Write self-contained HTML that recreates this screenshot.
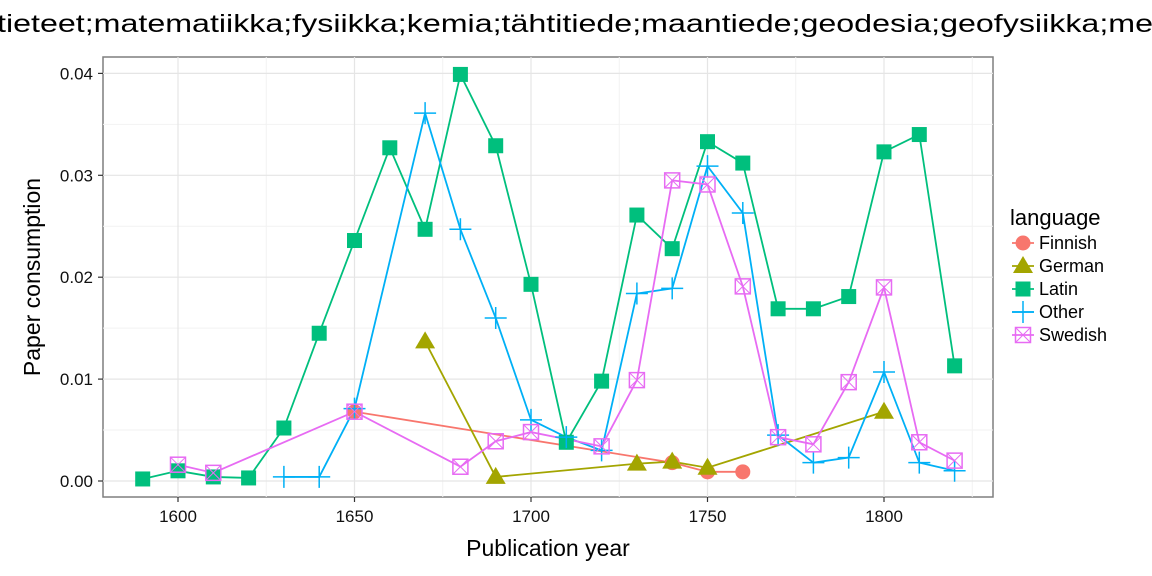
<!DOCTYPE html>
<html><head><meta charset="utf-8"><style>
body{margin:0;background:#fff;}
svg{display:block;font-family:"Liberation Sans",sans-serif;}
</style></head><body>
<svg id="chart" width="1152" height="576" viewBox="0 0 1152 576">
<text x="-3" y="32" font-size="25" textLength="1156" lengthAdjust="spacingAndGlyphs">tieteet;matematiikka;fysiikka;kemia;tähtitiede;maantiede;geodesia;geofysiikka;me</text>
<rect x="103" y="57" width="890" height="440" fill="#fff" stroke="#7f7f7f" stroke-width="1.5"/>
<g id="grid"></g>
<g id="series"></g>
<g id="axes"></g>
<text x="548" y="556" font-size="23" text-anchor="middle">Publication year</text>
<text transform="translate(40,277) rotate(-90)" font-size="23" text-anchor="middle">Paper consumption</text>
<g id="legend">
<text x="1010" y="225" font-size="22">language</text>
</g>
</svg>
<script>
const years = [1590,1600,1610,1620,1630,1640,1650,1660,1670,1680,1690,1700,1710,1720,1730,1740,1750,1760,1770,1780,1790,1800,1810,1820];
const finnishX = [1650,1740,1750,1760];
const finnishY = [0.0068,0.0018,0.0009,0.0009];
const germanX = [1670,1690,1730,1740,1750,1800];
const germanY = [0.0137,0.0004,0.0017,0.0019,0.0013,0.0068];
const latinX = years;
const latinY = [0.0002,0.0010,0.0004,0.0003,0.0052,0.0145,0.0236,0.0327,0.0247,0.0399,0.0329,0.0193,0.0038,0.0098,0.0261,0.0228,0.0333,0.0312,0.0169,0.0169,0.0181,0.0323,0.0340,0.0113];
const otherX = [1630,1640,1650,1670,1680,1690,1700,1710,1720,1730,1740,1750,1760,1770,1780,1790,1800,1810,1820];
const otherY = [0.0004,0.0004,0.0071,0.0361,0.0247,0.0160,0.0060,0.0043,0.0030,0.0184,0.0189,0.0309,0.0263,0.0045,0.0018,0.0023,0.0107,0.0018,0.0010];
const swedishX = [1600,1610,1650,1680,1690,1700,1720,1730,1740,1750,1760,1770,1780,1790,1800,1810,1820];
const swedishY = [0.0016,0.0008,0.0068,0.0014,0.0039,0.0048,0.0034,0.0099,0.0295,0.0291,0.0191,0.0043,0.0036,0.0097,0.0190,0.0038,0.0020];
const xTicks = [1600,1650,1700,1750,1800];
const yTicks = [0,0.01,0.02,0.03,0.04];
const yTickLabels = ["0.00","0.01","0.02","0.03","0.04"];
const languages = ["Finnish","German","Latin","Other","Swedish"];

const NS="http://www.w3.org/2000/svg";
const sx = v => 178 + (v-1600)*3.53;
const sy = v => 481 - v*10190;
function mk(tag, attrs, parent){const e=document.createElementNS(NS,tag);for(const k in attrs)e.setAttribute(k,attrs[k]);parent.appendChild(e);return e;}
const grid=document.getElementById('grid'), axes=document.getElementById('axes'), series=document.getElementById('series');
for(let i=0;i<xTicks.length+1;i++){const v=xTicks[0]-25+i*50;const x=sx(v);if(x>103&&x<993){const l=mk('line',{x1:x,x2:x,y1:57,y2:497,stroke:'#f2f2f2','stroke-width':1},grid);}}
for(let i=0;i<yTicks.length-1;i++){const y=sy(yTicks[i]+0.005);const l=mk('line',{x1:103,x2:993,y1:y,y2:y,stroke:'#f2f2f2','stroke-width':1},grid);}
xTicks.forEach(v=>{const x=sx(v);
const l=mk('line',{x1:x,x2:x,y1:57,y2:497,stroke:'#e5e5e5','stroke-width':1.2},grid);
const t=mk('line',{x1:x,x2:x,y1:497,y2:502,stroke:'#333','stroke-width':1.2},axes);
const tx=mk('text',{x:x,y:522,'font-size':17,'text-anchor':'middle',fill:'#111'},axes);tx.textContent=v;});
yTicks.forEach((v,i)=>{const y=sy(v);
const l=mk('line',{x1:103,x2:993,y1:y,y2:y,stroke:'#e5e5e5','stroke-width':1.2},grid);
const t=mk('line',{x1:98,x2:103,y1:y,y2:y,stroke:'#333','stroke-width':1.2},axes);
const tx=mk('text',{x:93,y:y+6,'font-size':17,'text-anchor':'end',fill:'#111'},axes);tx.textContent=yTickLabels[i];});

const colors={Finnish:'#F8766D',German:'#A3A500',Latin:'#00BF7D',Other:'#00B0F6',Swedish:'#E76BF3'};
function marker(lang,x,y,parent){
  const c=colors[lang];let g=mk('g',{},parent);
  if(lang==='Finnish'){mk('circle',{cx:x,cy:y,r:7.5,fill:c},g);}
  else if(lang==='German'){mk('polygon',{points:`${x},${y-10} ${x-10},${y+7} ${x+10},${y+7}`,fill:c},g);}
  else if(lang==='Latin'){mk('rect',{x:x-7.5,y:y-7.5,width:15,height:15,fill:c},g);}
  else if(lang==='Other'){mk('path',{d:`M${x-11},${y}H${x+11}M${x},${y-11}V${y+11}`,stroke:c,'stroke-width':1.5},g);}
  else {mk('rect',{x:x-7.5,y:y-7.5,width:15,height:15,fill:'none',stroke:c,'stroke-width':1.5},g);mk('path',{d:`M${x-7.5},${y-7.5}L${x+7.5},${y+7.5}M${x+7.5},${y-7.5}L${x-7.5},${y+7.5}`,stroke:c,'stroke-width':1},g);}
  return g;
}
const data={Finnish:[finnishX,finnishY],German:[germanX,germanY],Latin:[latinX,latinY],Other:[otherX,otherY],Swedish:[swedishX,swedishY]};
languages.forEach(lang=>{
  const [xs,ys]=data[lang];
  const pts=xs.map((x,i)=>sx(x)+','+sy(ys[i])).join(' ');
  const pl=mk('polyline',{points:pts,fill:'none',stroke:colors[lang],'stroke-width':1.8},series);
  
  
});
languages.forEach(lang=>{
  const [xs,ys]=data[lang];
  xs.forEach((x,i)=>{const m=marker(lang,sx(x),sy(ys[i]),series);
    
    });
});
const legend=document.getElementById('legend');
languages.forEach((lang,i)=>{
  const y=243+i*23;
  const g=mk('g',{},legend);
  
  
  mk('line',{x1:1012,x2:1034,y1:y,y2:y,stroke:colors[lang],'stroke-width':1.8},g);
  marker(lang,1023,y,g);
  const t=mk('text',{x:1039,y:y+6,'font-size':18},g);t.textContent=lang;
});
</script>
</body></html>
